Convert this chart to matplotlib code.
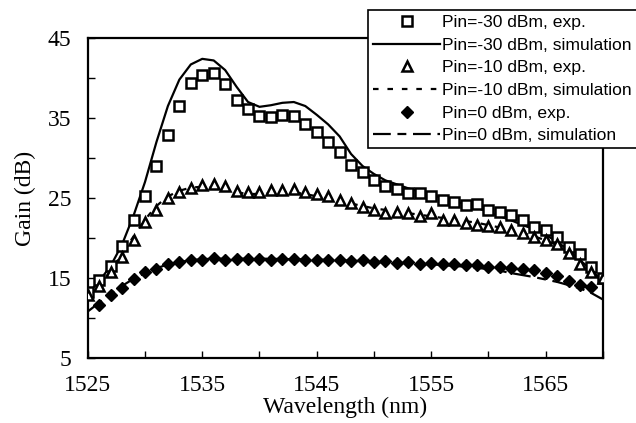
import numpy as np
import matplotlib.pyplot as plt
from matplotlib.ticker import MultipleLocator

# wavelength grid (nm)
wl = list(range(1525, 1571))

# Pin=-30 dBm, measured
g30_exp = [13.2, 14.75, 16.5, 19.0, 22.2, 25.25, 29.0, 32.9, 36.5, 39.4,
           40.4, 40.6, 39.2, 37.3, 36.1, 35.3, 35.1, 35.4, 35.25, 34.2,
           33.2, 32.0, 30.7, 29.1, 28.3, 27.3, 26.5, 26.1, 25.6, 25.6,
           25.2, 24.8, 24.5, 24.1, 24.3, 23.5, 23.3, 22.9, 22.25, 21.4,
           21.0, 20.1, 18.9, 18.0, 16.4, 15.0]
# Pin=-30 dBm, simulation
g30_sim = [13.0, 14.6, 16.5, 19.2, 22.8, 27.0, 32.0, 36.5, 39.8, 41.7,
           42.4, 42.2, 41.0, 38.9, 37.0, 36.4, 36.6, 36.9, 37.0, 36.5,
           35.4, 34.2, 32.7, 30.5, 29.0, 28.0, 27.2, 26.7, 26.2, 25.8,
           25.4, 25.0, 24.6, 24.2, 23.8, 23.2, 22.7, 22.2, 21.6, 21.1,
           20.4, 19.5, 18.5, 17.2, 16.0, 14.5]
# Pin=-10 dBm, measured
g10_exp = [12.9, 14.0, 15.8, 17.6, 19.8, 22.0, 23.5, 25.0, 25.7, 26.2,
           26.6, 26.75, 26.5, 25.9, 25.8, 25.7, 26.0, 26.0, 26.1, 25.8,
           25.5, 25.2, 24.75, 24.4, 23.9, 23.5, 23.1, 23.3, 23.1, 22.7,
           23.1, 22.25, 22.25, 21.9, 21.6, 21.5, 21.4, 21.0, 20.6, 20.1,
           19.75, 19.2, 18.1, 16.8, 15.8, 15.0]
# Pin=-10 dBm, simulation
g10_sim = [12.5, 14.0, 15.9, 18.0, 20.2, 22.3, 24.0, 25.2, 25.9, 26.3,
           26.4, 26.3, 26.0, 25.7, 25.5, 25.5, 25.6, 25.7, 25.7, 25.5,
           25.2, 24.9, 24.6, 24.3, 24.0, 23.7, 23.5, 23.3, 23.1, 22.9,
           22.7, 22.5, 22.3, 22.1, 21.9, 21.6, 21.3, 21.0, 20.6, 20.2,
           19.7, 19.1, 18.4, 17.5, 16.4, 15.0]
# Pin=0 dBm, measured (1526..1569)
wl0 = list(range(1526, 1570))
g0_exp = [11.6, 12.8, 13.8, 14.9, 15.7, 16.1, 16.8, 17.0, 17.3, 17.3,
          17.45, 17.3, 17.35, 17.4, 17.4, 17.3, 17.4, 17.35, 17.3, 17.3,
          17.25, 17.2, 17.1, 17.2, 17.0, 17.1, 16.9, 17.0, 16.8, 16.9,
          16.7, 16.7, 16.6, 16.6, 16.4, 16.4, 16.2, 16.1, 16.0, 15.6,
          15.2, 14.6, 14.1, 13.9]
# Pin=0 dBm, simulation
g0_sim = [10.8, 11.9, 13.0, 14.0, 14.9, 15.6, 16.2, 16.7, 17.0, 17.2,
          17.35, 17.4, 17.4, 17.4, 17.4, 17.4, 17.4, 17.35, 17.35, 17.3,
          17.3, 17.25, 17.2, 17.15, 17.1, 17.0, 16.95, 16.9, 16.85, 16.75,
          16.7, 16.6, 16.5, 16.4, 16.25, 16.1, 15.9, 15.6, 15.35, 15.1,
          14.8, 14.5, 14.1, 13.7, 13.1, 12.3]

plt.rcParams['font.family'] = 'Liberation Serif'

fig = plt.figure(figsize=(6.36, 4.23), dpi=100)
ax = fig.add_axes([0.138, 0.154, 0.810, 0.756])

ms = 7
mew = 1.8
ax.plot(wl, g30_exp, 's', ms=ms, mfc='white', mec='black', mew=mew,
        label='Pin=-30 dBm, exp.', zorder=3)
ax.plot(wl, g30_sim, '-', color='black', lw=1.6,
        label='Pin=-30 dBm, simulation', zorder=2)
ax.plot(wl, g10_exp, '^', ms=ms, mfc='white', mec='black', mew=mew,
        label='Pin=-10 dBm, exp.', zorder=3)
ax.plot(wl, g10_sim, color='black', lw=1.6, ls=(0, (2.5, 4)),
        label='Pin=-10 dBm, simulation', zorder=2)
ax.plot(wl0, g0_exp, 'D', ms=6.5, mfc='black', mec='black',
        label='Pin=0 dBm, exp.', zorder=3)
ax.plot(wl, g0_sim, color='black', lw=1.6, ls=(0, (8, 3, 4, 3)),
        label='Pin=0 dBm, simulation', zorder=2)

ax.set_xlim(1525, 1570)
ax.set_ylim(5, 45)
ax.xaxis.set_minor_locator(MultipleLocator(5))
ax.yaxis.set_minor_locator(MultipleLocator(5))
ax.set_yticks([5, 15, 25, 35, 45])
ax.set_xticks([1525, 1535, 1545, 1555, 1565])
ax.tick_params(which='both', direction='in', top=False, right=False,
               labelsize=17, colors='black')
ax.tick_params(which='major', length=5, width=1)
ax.tick_params(which='minor', length=5, width=1)
ax.tick_params(axis='x', pad=12)
ax.tick_params(axis='y', pad=12)
for s in ax.spines.values():
    s.set_linewidth(1.6)

ax.set_xlabel('Wavelength (nm)', fontsize=17, labelpad=1)
ax.set_ylabel('Gain (dB)', fontsize=17, labelpad=8)

leg = ax.legend(loc='upper left', bbox_to_anchor=(0.579, 0.977),
                bbox_transform=fig.transFigure, borderaxespad=0,
                fancybox=False, framealpha=1, edgecolor='black',
                handlelength=3.8, handletextpad=0.1, labelspacing=0.42,
                borderpad=0.3,
                prop={'family': 'Liberation Sans', 'size': 12.6})
leg.get_frame().set_linewidth(1.2)

fig.savefig('out.png', dpi=100)
